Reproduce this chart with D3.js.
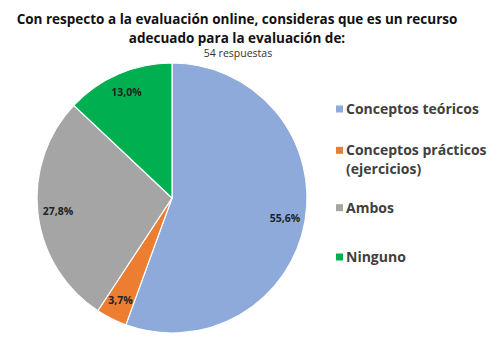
<!DOCTYPE html>
<html>
<head>
<meta charset="utf-8">
<script src="https://cdn.jsdelivr.net/npm/d3@7"></script>
<style>
  body { margin: 0; background: #fff; }
  text { font-family: "Open Sans", "Liberation Sans", sans-serif; }
</style>
</head>
<body>
<div id="chart"></div>
<script>
// answers to the survey question, 54 responses
let categories = [ "Conceptos teóricos", "Conceptos prácticos (ejercicios)", "Ambos", "Ninguno" ] ;
let values     = [ 30, 2, 15, 7 ] ;
let labels     = [ "55,6%", "3,7%", "27,8%", "13,0%" ] ;
let legendRows = [ ["Conceptos teóricos"], ["Conceptos prácticos", "(ejercicios)"], ["Ambos"], ["Ninguno"] ] ;
let colours    = [ "#8eaadb", "#ed7d31", "#a5a5a5", "#00b050" ] ;

let svgwidth  = 499 ;
let svgheight = 361 ;

let cx = 172, cy = 198, radius = 135 ;

let svg = d3.select("#chart").append("svg")
				.attr("width", svgwidth)
				.attr("height", svgheight) ;

// title
svg.append("text")
	.attr("x", 237).attr("y", 24)
	.attr("text-anchor", "middle")
	.attr("font-size", 13.5).attr("font-weight", "bold").attr("fill", "#111")
	.text("Con respecto a la evaluación online, consideras que es un recurso") ;

svg.append("text")
	.attr("x", 237).attr("y", 43)
	.attr("text-anchor", "middle")
	.attr("font-size", 13.5).attr("font-weight", "bold").attr("fill", "#111")
	.text("adecuado para la evaluación de:") ;

svg.append("text")
	.attr("x", 238).attr("y", 57)
	.attr("text-anchor", "middle")
	.attr("font-size", 10.5).attr("fill", "#333")
	.text("54 respuestas") ;

// pie
let pie = d3.pie().sort(null).value(d => d) ;
let arcs = pie(values) ;

let arc = d3.arc().innerRadius(0).outerRadius(radius) ;
let labelArc = d3.arc().innerRadius(radius * 0.85).outerRadius(radius * 0.85) ;

let g = svg.append("g").attr("transform", "translate(" + cx + "," + cy + ")") ;

g.selectAll("path")
	.data(arcs)
	.enter().append("path")
	.attr("d", arc)
	.attr("fill", (d, i) => colours[i])
	.attr("stroke", "#fff")
	.attr("stroke-width", 1.2) ;

g.selectAll("text.lbl")
	.data(arcs)
	.enter().append("text")
	.attr("class", "lbl")
	.attr("transform", d => "translate(" + labelArc.centroid(d) + ")")
	.attr("text-anchor", "middle")
	.attr("dy", "0.35em")
	.attr("font-size", 10.5).attr("font-weight", "bold").attr("fill", "#222")
	.text((d, i) => labels[i]) ;

// legend
let legendY = d3.scalePoint().domain(categories).range([109, 257]) ;

let leg = svg.selectAll("g.leg")
	.data(categories)
	.enter().append("g")
	.attr("class", "leg")
	.attr("transform", (d, i) => "translate(336," + (legendY(d) + (i == 1 ? -8 : 0)) + ")") ;

leg.append("rect")
	.attr("x", 0).attr("y", -3.5)
	.attr("width", 7).attr("height", 7)
	.attr("fill", (d, i) => colours[i]) ;

leg.each(function(d, i) {
	let t = d3.select(this).append("text")
		.attr("x", 10).attr("y", 0)
		.attr("font-size", 14).attr("font-weight", "bold").attr("fill", "#404040") ;
	legendRows[i].forEach((row, j) => {
		t.append("tspan").attr("x", 10).attr("dy", j == 0 ? "0.35em" : 19).text(row) ;
	}) ;
}) ;
</script>
</body>
</html>
